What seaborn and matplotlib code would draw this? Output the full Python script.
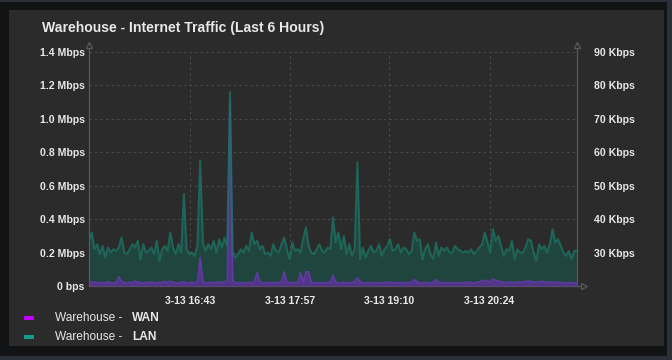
import numpy as np
import pandas as pd
import matplotlib
matplotlib.use("Agg")
import matplotlib.pyplot as plt
from matplotlib.patches import Rectangle
import seaborn as sns

# ---------------- data ----------------
title = "Warehouse - Internet Traffic (Last 6 Hours)"
series_prefix = "Warehouse - "
series_names = ["WAN", "LAN"]
start_time = "2024-03-13 15:28:30"
step_minutes = 2

lan_mbps = [
    0.27, 0.32, 0.22, 0.25, 0.19, 0.24, 0.17, 0.23, 0.20, 0.22,
    0.21, 0.23, 0.29, 0.20, 0.19, 0.22, 0.25, 0.23, 0.27, 0.16,
    0.25, 0.20, 0.21, 0.23, 0.19, 0.27, 0.15, 0.22, 0.24, 0.21,
    0.32, 0.23, 0.19, 0.25, 0.20, 0.55, 0.22, 0.19, 0.20, 0.18,
    0.24, 0.75, 0.26, 0.21, 0.25, 0.22, 0.27, 0.20, 0.28, 0.23,
    0.29, 0.24, 1.16, 0.20, 0.17, 0.19, 0.22, 0.20, 0.24, 0.21,
    0.32, 0.25, 0.27, 0.22, 0.24, 0.19, 0.20, 0.18, 0.25, 0.21,
    0.20, 0.25, 0.29, 0.22, 0.16, 0.26, 0.21, 0.22, 0.20, 0.28,
    0.35, 0.24, 0.20, 0.19, 0.22, 0.25, 0.21, 0.20, 0.23, 0.22,
    0.41, 0.26, 0.32, 0.22, 0.30, 0.19, 0.25, 0.18, 0.22, 0.74,
    0.16, 0.23, 0.17, 0.21, 0.24, 0.20, 0.21, 0.25, 0.18, 0.22,
    0.24, 0.28, 0.21, 0.22, 0.25, 0.20, 0.23, 0.22, 0.19, 0.21,
    0.32, 0.27, 0.28, 0.16, 0.22, 0.25, 0.19, 0.16, 0.26, 0.18,
    0.23, 0.21, 0.23, 0.20, 0.20, 0.24, 0.22, 0.21, 0.20, 0.21,
    0.20, 0.22, 0.19, 0.21, 0.23, 0.25, 0.32, 0.26, 0.20, 0.34,
    0.27, 0.30, 0.24, 0.18, 0.22, 0.21, 0.27, 0.16, 0.22, 0.20,
    0.20, 0.23, 0.28, 0.27, 0.20, 0.15, 0.25, 0.22, 0.24, 0.20,
    0.25, 0.34, 0.26, 0.28, 0.24, 0.20, 0.18, 0.21, 0.16, 0.21, 0.21,
]

wan_mbps = [
    0.030, 0.020, 0.025, 0.020, 0.018, 0.022, 0.020, 0.025, 0.020, 0.018,
    0.022, 0.055, 0.030, 0.020, 0.018, 0.022, 0.020, 0.030, 0.025, 0.020,
    0.018, 0.022, 0.020, 0.025, 0.020, 0.018, 0.022, 0.020, 0.028, 0.020,
    0.030, 0.022, 0.020, 0.018, 0.022, 0.025, 0.020, 0.018, 0.022, 0.020,
    0.025, 0.170, 0.025, 0.020, 0.018, 0.022, 0.020, 0.025, 0.022, 0.020,
    0.025, 0.030, 1.100, 0.030, 0.020, 0.018, 0.022, 0.020, 0.018, 0.022,
    0.020, 0.025, 0.080, 0.025, 0.020, 0.018, 0.022, 0.020, 0.018, 0.022,
    0.020, 0.025, 0.085, 0.025, 0.020, 0.018, 0.022, 0.020, 0.080, 0.022,
    0.085, 0.085, 0.022, 0.020, 0.018, 0.022, 0.020, 0.018, 0.022, 0.025,
    0.065, 0.025, 0.020, 0.018, 0.022, 0.020, 0.018, 0.022, 0.025, 0.050,
    0.025, 0.020, 0.018, 0.022, 0.020, 0.018, 0.022, 0.020, 0.018, 0.022,
    0.020, 0.025, 0.020, 0.018, 0.022, 0.020, 0.018, 0.022, 0.020, 0.025,
    0.040, 0.025, 0.020, 0.018, 0.022, 0.020, 0.018, 0.022, 0.040, 0.022,
    0.020, 0.018, 0.022, 0.020, 0.018, 0.022, 0.020, 0.018, 0.022, 0.020,
    0.025, 0.020, 0.018, 0.022, 0.025, 0.030, 0.035, 0.030, 0.025, 0.040,
    0.035, 0.030, 0.025, 0.022, 0.020, 0.025, 0.022, 0.020, 0.025, 0.022,
    0.025, 0.028, 0.030, 0.028, 0.025, 0.022, 0.025, 0.028, 0.025, 0.022,
    0.025, 0.022, 0.020, 0.025, 0.022, 0.020, 0.018, 0.022, 0.020, 0.018, 0.020,
]

left_ticks = [0, 0.2, 0.4, 0.6, 0.8, 1.0, 1.2, 1.4]
left_tick_labels = ["0 bps", "0.2 Mbps", "0.4 Mbps", "0.6 Mbps", "0.8 Mbps",
                    "1.0 Mbps", "1.2 Mbps", "1.4 Mbps"]
right_ticks = [30, 40, 50, 60, 70, 80, 90]
right_tick_labels = ["30 Kbps", "40 Kbps", "50 Kbps", "60 Kbps", "70 Kbps",
                     "80 Kbps", "90 Kbps"]
right_range = [20, 90]
x_tick_times = ["2024-03-13 16:43", "2024-03-13 17:57",
                "2024-03-13 19:10", "2024-03-13 20:24"]
x_tick_labels = ["3-13 16:43", "3-13 17:57", "3-13 19:10", "3-13 20:24"]

# ---------------- style ----------------
sns.set_style("dark")
plt.rcParams["font.family"] = ["Liberation Sans", "DejaVu Sans"]

W, H = 672, 360
PANEL = "#2b2b2b"
FRAME = "#121315"
OUTER = "#2b2f37"
GRID = "#4b4b4b"
SPINE = "#5a5a5a"
TXT = "#e8e8e8"
LAN_LINE = "#1b6d60"
LAN_FILL = "#1f4741"
WAN_LINE = "#6a3ab4"
WAN_FILL = "#5a3394"
WAN_KEY = "#c000ff"
LAN_KEY = "#129a8a"

times = pd.date_range(start_time, periods=len(lan_mbps), freq=f"{step_minutes}min")
df = pd.DataFrame({"time": times, "LAN": lan_mbps, "WAN": wan_mbps})

fig = plt.figure(figsize=(W / 100, H / 100), dpi=100, facecolor=OUTER)
fig.add_artist(Rectangle((0, 4 / H), 667 / W, 354 / H, transform=fig.transFigure,
                         facecolor=FRAME, edgecolor="none", zorder=-10))
fig.add_artist(Rectangle((9 / W, 14 / H), 655 / W, 336 / H, transform=fig.transFigure,
                         facecolor=PANEL, edgecolor="none", zorder=-9))

ax = fig.add_axes([89 / W, 74 / H, 488 / W, 234 / H])
ax.set_facecolor(PANEL)

# LAN area
ax.fill_between(df["time"], 0, df["LAN"], color=LAN_FILL, alpha=0.9, linewidth=0, zorder=2)
# WAN area + line
ax.fill_between(df["time"], 0, df["WAN"], color=WAN_FILL, alpha=0.85, linewidth=0, zorder=3)
sns.lineplot(data=df, x="time", y="WAN", ax=ax, color=WAN_LINE, linewidth=1.2, alpha=0.8, zorder=4)
# LAN line on top (semi-transparent, blends with WAN spike)
sns.lineplot(data=df, x="time", y="LAN", ax=ax, color="#1c7565", linewidth=1.5, alpha=0.75, zorder=5)

ax.set_xlim(times[0], times[-1])
ax.set_ylim(0, 1.4)
ax.set_xlabel("")
ax.set_ylabel("")

ax.set_yticks(left_ticks)
ax.set_yticklabels(left_tick_labels)
xt = pd.to_datetime(x_tick_times)
ax.set_xticks(xt)
ax.set_xticklabels(x_tick_labels)

ax.tick_params(axis="y", length=0, pad=3, labelsize=7.6, labelcolor=TXT)
ax.tick_params(axis="x", length=0, pad=7, labelsize=7.6, labelcolor=TXT)
for lab in ax.get_yticklabels() + ax.get_xticklabels():
    lab.set_fontweight("bold")

ax.grid(True, which="major", color=GRID, linestyle=(0, (2, 3)), linewidth=0.8, zorder=1)
ax.set_axisbelow(True)

ax.spines["top"].set_visible(False)
for side in ["left", "right", "bottom"]:
    ax.spines[side].set_visible(True)
    ax.spines[side].set_color(SPINE)
    ax.spines[side].set_linewidth(0.9)

# axis arrows
for xa in [0, 1]:
    ax.plot([xa, xa], [1.0, 1.028], color=SPINE, lw=0.9, transform=ax.transAxes, clip_on=False)
    ax.plot([xa], [1.028], marker="^", ms=5, mfc=PANEL, mec=SPINE, mew=0.9,
            transform=ax.transAxes, clip_on=False)
ax.plot([1.0, 1.014], [0, 0], color=SPINE, lw=0.9, transform=ax.transAxes, clip_on=False)
ax.plot([1.014], [0], marker=">", ms=5, mfc=PANEL, mec=SPINE, mew=0.9,
        transform=ax.transAxes, clip_on=False)

# right axis
ax2 = ax.twinx()
ax2.set_ylim(*right_range)
ax2.set_yticks(right_ticks)
ax2.set_yticklabels(right_tick_labels)
ax2.tick_params(axis="y", length=0, pad=12, labelsize=7.6, labelcolor=TXT)
for lab in ax2.get_yticklabels():
    lab.set_fontweight("bold")
for side in ["top", "left", "bottom", "right"]:
    ax2.spines[side].set_visible(False)
ax2.grid(False)

# title
fig.text(42 / W, 1 - 32 / H, title, fontsize=10.1, fontweight="bold", color=TXT,
         ha="left", va="baseline")

# legend
key_colors = [WAN_KEY, LAN_KEY]
rows_y = [318, 336.5]
for name, col, yy in zip(series_names, key_colors, rows_y):
    fig.add_artist(Rectangle((24 / W, 1 - (yy + 2) / H), 10 / W, 4 / H,
                             transform=fig.transFigure, facecolor=col, edgecolor="none"))
    fig.text(55 / W, 1 - yy / H, series_prefix.strip(), fontsize=8.6, color=TXT,
             ha="left", va="center")
    fig.text(132 / W, 1 - yy / H, name, fontsize=8.6, fontweight="bold", color=TXT,
             ha="left", va="center")

fig.savefig("out.png", dpi=100, facecolor=fig.get_facecolor())
